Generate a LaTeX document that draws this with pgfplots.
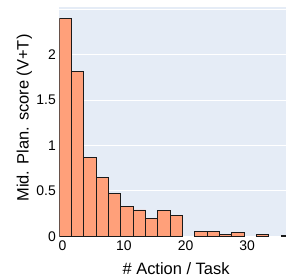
\documentclass[border=0pt]{standalone}
\usepackage{pgfplots}
\pgfplotsset{compat=1.18}
\usepackage{fontspec}
\setmainfont{Liberation Sans}
\definecolor{bgc}{HTML}{E5ECF6}
\definecolor{barc}{HTML}{FFA07A}
\definecolor{edgec}{HTML}{1A1A1A}
\begin{document}
\begin{tikzpicture}
\begin{axis}[
  scale only axis,
  width=226.7bp, height=229.3bp,
  xmin=-0.5, xmax=36.3,
  ymin=0, ymax=2.528,
  axis background/.style={fill=bgc},
  axis line style={draw=none},
  tick style={draw=none},
  xtick={0,10,20,30},
  xticklabels={0,10,20,30},
  ytick={0,0.5,1,1.5,2},
  yticklabels={0,0.5,1,1.5,2},
  extra y ticks={2.5},
  extra y tick labels={},
  extra y tick style={grid=major},
  ymajorgrids,
  grid style={white, line width=1bp},
  ticklabel style={font=\fontsize{14}{16}\selectfont},
  xticklabel style={yshift=-1bp},
  xlabel={\# Action / Task},
  ylabel={Mid. Plan. score (V+T)},
  label style={font=\fontsize{16.5}{18}\selectfont},
  xlabel style={at={(axis description cs:0.515,-0.141)}, anchor=center},
  ylabel style={at={(axis description cs:-0.154,0.516)}, anchor=center},
  clip=true,
]
\addplot[ybar, bar width=2, bar shift=0pt, fill=barc, draw=edgec, line width=0.9bp] coordinates {
  (0.5,2.40) (2.5,1.82) (4.5,0.87) (6.5,0.65) (8.5,0.47)
  (10.5,0.33) (12.5,0.29) (14.5,0.20) (16.5,0.28) (18.5,0.23)
  (22.5,0.05) (24.5,0.05) (26.5,0.02) (28.5,0.04)
  (32.5,0.02) (36.5,0.01)
};
\end{axis}
\path (current axis.south west) ++(-59.3bp,-39.7bp) coordinate (BL);
\path (current axis.north east) ++(0bp,7bp) coordinate (TR);
\pgfresetboundingbox
\useasboundingbox (BL) rectangle (TR);
\end{tikzpicture}
\end{document}
